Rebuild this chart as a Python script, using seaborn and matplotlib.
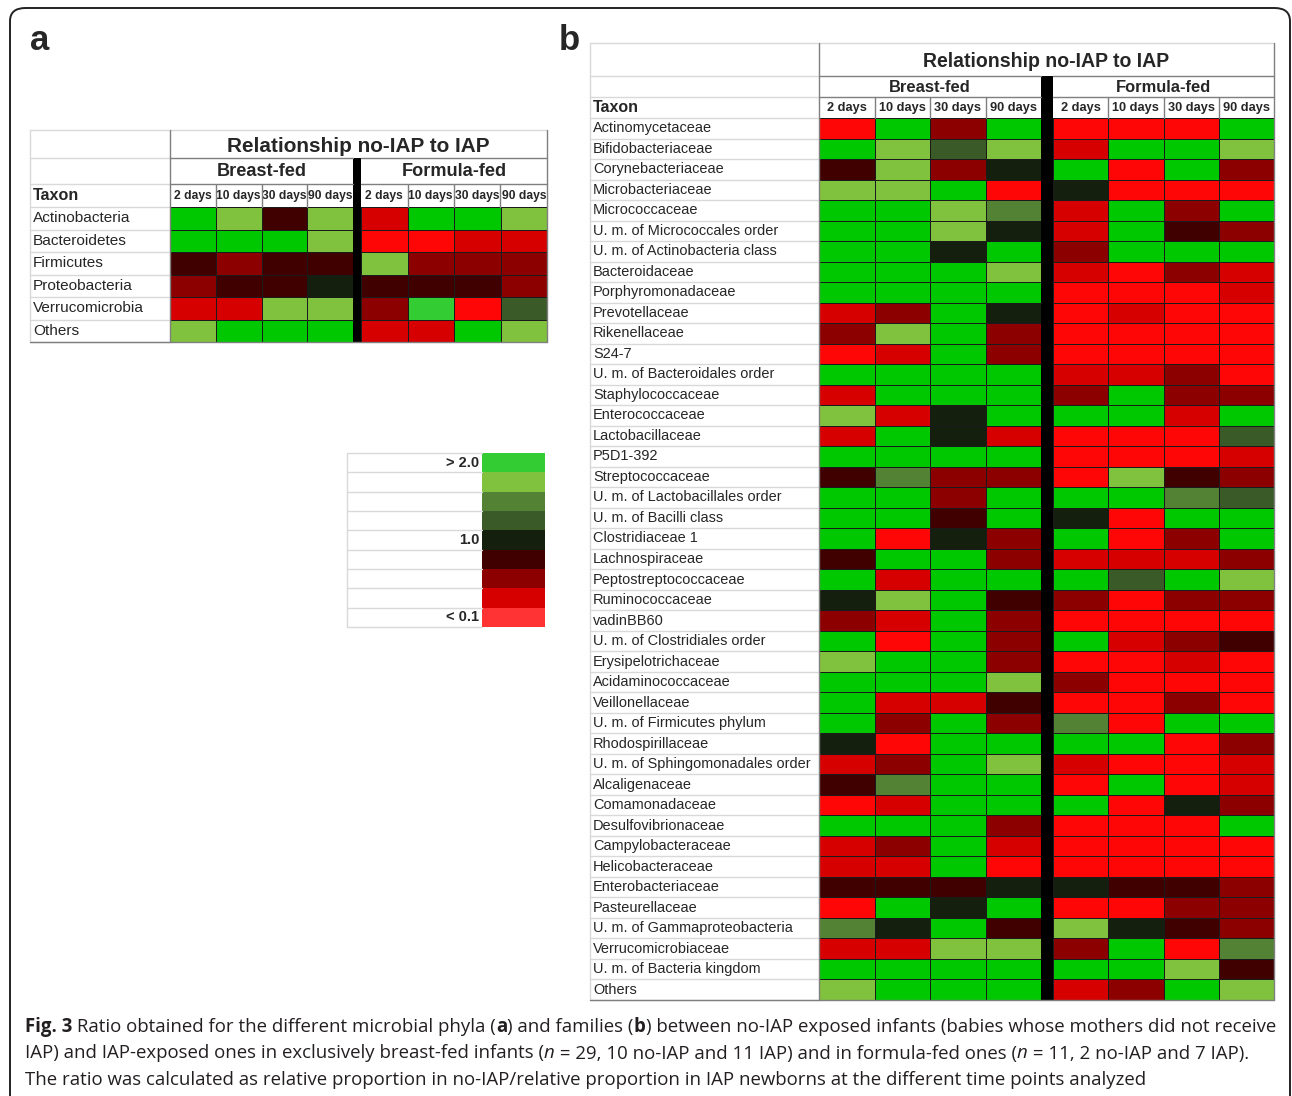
import numpy as np
import pandas as pd
import seaborn as sns
import matplotlib
matplotlib.use("Agg")
import matplotlib.pyplot as plt
from matplotlib.colors import ListedColormap
from matplotlib.lines import Line2D
from matplotlib.patches import Rectangle, FancyBboxPatch

# ratio classes, from > 2.0 (green) to < 0.1 (red); G/F are the cell greens/reds,
# g/f the slightly different shades used in the legend
LEVELS = "GgLMDKmRrFf"
LEVEL_COLORS = ["#00c800", "#33cc33", "#80c13d", "#548235", "#3a5a27", "#151f0e",
                "#400000", "#8c0000", "#d60000", "#ff0606", "#ff3333"]

days = ["2 days", "10 days", "30 days", "90 days"]

# panel a: phyla, 4 breast-fed columns then 4 formula-fed columns
phyla = ["Actinobacteria", "Bacteroidetes", "Firmicutes", "Proteobacteria",
         "Verrucomicrobia", "Others"]
phyla_codes = ["GLmLrGGL", "GGGLFFrr", "mRmmLRRR", "RmmKmmmR", "rrLLRgFD", "LGGGrrGL"]

# panel b: families
families = ["Actinomycetaceae", "Bifidobacteriaceae", "Corynebacteriaceae",
            "Microbacteriaceae", "Micrococcaceae", "U. m. of Micrococcales order",
            "U. m. of Actinobacteria class", "Bacteroidaceae", "Porphyromonadaceae",
            "Prevotellaceae", "Rikenellaceae", "S24-7", "U. m. of Bacteroidales order",
            "Staphylococcaceae", "Enterococcaceae", "Lactobacillaceae", "P5D1-392",
            "Streptococcaceae", "U. m. of Lactobacillales order", "U. m. of Bacilli class",
            "Clostridiaceae 1", "Lachnospiraceae", "Peptostreptococcaceae",
            "Ruminococcaceae", "vadinBB60", "U. m. of Clostridiales order",
            "Erysipelotrichaceae", "Acidaminococcaceae", "Veillonellaceae",
            "U. m. of Firmicutes phylum", "Rhodospirillaceae",
            "U. m. of Sphingomonadales order", "Alcaligenaceae", "Comamonadaceae",
            "Desulfovibrionaceae", "Campylobacteraceae", "Helicobacteraceae",
            "Enterobacteriaceae", "Pasteurellaceae", "U. m. of Gammaproteobacteria",
            "Verrucomicrobiaceae", "U. m. of Bacteria kingdom", "Others"]
family_codes = ["FGRGFFFG", "GLDLrGGL", "mLRKGFGR", "LLGFKFFF", "GGLMrGRG", "GGLKrGmR",
                "GGKGRGGG", "GGGLrFRr", "GGGGFFFr", "rRGKFrFF", "RLGRFFFF", "FrGRFFFF",
                "GGGGrrRF", "rGGGRGRR", "LrKGGGrG", "rGKrFFFD", "GGGGFFFr", "mMRRFLmR",
                "GGRGGGMD", "GGmGKFGG", "GFKRGFRG", "mGGRrrrR", "GrGGGDGL", "KLGmRFRR",
                "RrGRFFFF", "GFGRGrRm", "LGGRFFrF", "GGGLRFFF", "GrrmFFRF", "GRGRMFGG",
                "KFGGGGFR", "rRGLrFFr", "mMGGFGFr", "FrGGGFKR", "GGGRFFFG", "rRGrFFFF",
                "rrGFFFFF", "mmmKKmmR", "FGKGFFRR", "MKGmLKmR", "rrLLRGFM", "GGGGGGLm",
                "LGGGrRGL"]

legend_codes = "gLMDKmRrf"
legend_labels = ["> 2.0", "", "", "", "1.0", "", "", "", "< 0.1"]

SANS = ["Liberation Sans", "DejaVu Sans"]
CAPTION = ["Open Sans", "DejaVu Sans"]

sns.set_theme(style="white")
plt.rcParams["font.family"] = SANS

W, H = 1292, 1096
fig = plt.figure(figsize=(W / 100, H / 100), dpi=100)
renderer = fig.canvas.get_renderer()
cmap = ListedColormap(LEVEL_COLORS)
LIGHT = "#d9d9d9"
MID = "#7f7f7f"


def box(x0, y0, x1, y1):
    return [x0 / W, 1 - y1 / H, (x1 - x0) / W, (y1 - y0) / H]


def line(x0, y0, x1, y1, color, lw=1.0):
    fig.add_artist(Line2D([x0 / W, x1 / W], [1 - y0 / H, 1 - y1 / H], color=color,
                          lw=lw, transform=fig.transFigure))


def text(x, y, s, **kw):
    return fig.text(x / W, 1 - y / H, s, **kw)


def fit(s, width_px, max_size, weight="normal"):
    # font size so that s is about width_px wide (the original uses a narrow face)
    t = fig.text(0, 0, s, fontsize=10, family=SANS, fontweight=weight)
    w = t.get_window_extent(renderer).width
    t.remove()
    return min(max_size, 10 * width_px / w)


def to_matrix(codes):
    return np.array([[LEVELS.index(c) for c in row] for row in codes])


def draw_panel(taxa, codes, xs, ys, widths, maxes):
    # xs: label col left, block1 left, bar left, bar right, block2 right
    # ys: table top, subgroup top, day row top, data top, bottom
    lx, b1, bar0, bar1, b2 = xs
    top, sub, head, data, bot = ys
    t_w, s_w, d_w, l_w = widths
    t_max, s_max, d_max, l_max = maxes
    t_size = fit("Relationship no-IAP to IAP", t_w, t_max, "bold")
    s_size = fit("Breast-fed", s_w, s_max, "bold")
    d_size = fit("10 days", d_w, d_max, "bold")
    l_size = fit(max(taxa, key=len), l_w, l_max)
    mat = to_matrix(codes)
    row_h = (bot - data) / len(taxa)

    # label column grid
    for i in range(len(taxa) + 1):
        line(lx, data + i * row_h, b1, data + i * row_h, LIGHT)
    for y in (top, sub, head):
        line(lx, y, b1, y, LIGHT)
    line(lx, top, lx, bot, LIGHT)
    line(lx, bot, b2, bot, MID)
    line(b1, top, b2, top, LIGHT)
    line(b2, top, b2, bot, MID)
    line(b1, top, b1, bot, MID)
    text(lx + 3, (head + data) / 2, "Taxon", fontsize=max(l_size, 11) + 0.5,
         fontweight="bold", va="center", ha="left")
    text((b1 + b2) / 2, (top + sub) / 2 + 2, "Relationship no-IAP to IAP", fontsize=t_size,
         fontweight="bold", ha="center", va="center")

    blocks = [("Breast-fed", b1, bar0, mat[:, :4]), ("Formula-fed", bar1, b2, mat[:, 4:])]
    for k, (name, x0, x1, block) in enumerate(blocks):
        line(x0, sub, x1, sub, MID)
        line(x0, head, x1, head, MID)
        cw = (x1 - x0) / 4
        for j in range(1, 4):
            line(x0 + j * cw, head, x0 + j * cw, data, MID)
        text((x0 + x1) / 2, (sub + head) / 2 + 1, name, fontsize=s_size, fontweight="bold",
             ha="center", va="center")
        df = pd.DataFrame(block, index=taxa, columns=days)
        ax = fig.add_axes(box(x0, data, x1, bot))
        sns.heatmap(df, ax=ax, cmap=cmap, vmin=-0.5, vmax=len(LEVELS) - 0.5, cbar=False,
                    linewidths=0.7, linecolor="#1a1a1a", xticklabels=days,
                    yticklabels=taxa if k == 0 else False)
        ax.set_xlabel("")
        ax.set_ylabel("")
        ax.xaxis.tick_top()
        ax.tick_params(axis="x", length=0, pad=(data - head) / 2 * 0.72)
        ax.set_xticklabels(days, rotation=0, fontweight="bold", fontsize=d_size, va="center")
        if k == 0:
            ax.tick_params(axis="y", length=0, pad=(x0 - lx - 3) * 0.72)
            ax.set_yticklabels(taxa, rotation=0, ha="left", va="center", fontsize=l_size)
    fig.add_artist(Rectangle((bar0 / W, 1 - bot / H), (bar1 - bar0) / W, (bot - sub) / H,
                             transform=fig.transFigure, color="black", lw=0))


# panel a
draw_panel(phyla, phyla_codes, (30, 170, 353, 361, 547), (130, 158, 184, 207, 342),
           (262, 90, 44.5, 112), (15.5, 13.5, 9.5, 11.5))
# panel b
draw_panel(families, family_codes, (590, 819, 1041, 1053, 1274), (43, 76, 97, 118, 1000),
           (246, 82, 47, 217), (15, 13.5, 9.5, 11.5))

# legend
lg_top, lg_bot = 453, 627
lg_h = (lg_bot - lg_top) / len(legend_codes)
for i in range(len(legend_codes) + 1):
    line(347, lg_top + i * lg_h, 482, lg_top + i * lg_h, LIGHT)
line(347, lg_top, 347, lg_bot, LIGHT)
lax = fig.add_axes(box(482, lg_top, 545, lg_bot))
lg_df = pd.DataFrame(to_matrix(list(legend_codes)), index=legend_labels, columns=["ratio"])
sns.heatmap(lg_df, ax=lax, cmap=cmap, vmin=-0.5, vmax=len(LEVELS) - 0.5, cbar=False,
            linewidths=0, xticklabels=False, yticklabels=legend_labels)
lax.set_ylabel("")
lax.tick_params(axis="y", length=0, pad=2)
lax.set_yticklabels(legend_labels, rotation=0, fontweight="bold", fontsize=10.5)

# panel letters
text(40, 40, "a", fontsize=25, fontweight="bold", ha="center", va="center")
text(569, 40, "b", fontsize=25, fontweight="bold", ha="center", va="center")

# frame
fig.add_artist(FancyBboxPatch((10 / W, 1 - 1130 / H), 1280 / W, 1122 / H,
                              boxstyle="round,pad=0,rounding_size=0.012",
                              transform=fig.transFigure, fill=False, lw=1.4, ec="#222222"))

# caption with mixed bold / italic pieces
caption_lines = [
    [("Fig. 3", "bold", "normal"), (" Ratio obtained for the different microbial phyla (", "normal", "normal"),
     ("a", "bold", "normal"), (") and families (", "normal", "normal"), ("b", "bold", "normal"),
     (") between no-IAP exposed infants (babies whose mothers did not receive", "normal", "normal")],
    [("IAP) and IAP-exposed ones in exclusively breast-fed infants (", "normal", "normal"),
     ("n", "normal", "italic"), (" = 29, 10 no-IAP and 11 IAP) and in formula-fed ones (", "normal", "normal"),
     ("n", "normal", "italic"), (" = 11, 2 no-IAP and 7 IAP).", "normal", "normal")],
    [("The ratio was calculated as relative proportion in no-IAP/relative proportion in IAP newborns "
      "at the different time points analyzed", "normal", "normal")],
]
for li, pieces in enumerate(caption_lines):
    x = 25
    y = 1027 + li * 26.5
    for s, weight, style in pieces:
        t = text(x, y, s, fontsize=13.45, fontweight=weight, fontstyle=style, va="center",
                 ha="left", family=CAPTION, color="#231f20")
        x += t.get_window_extent(renderer).width

fig.savefig("out.png", dpi=100)
